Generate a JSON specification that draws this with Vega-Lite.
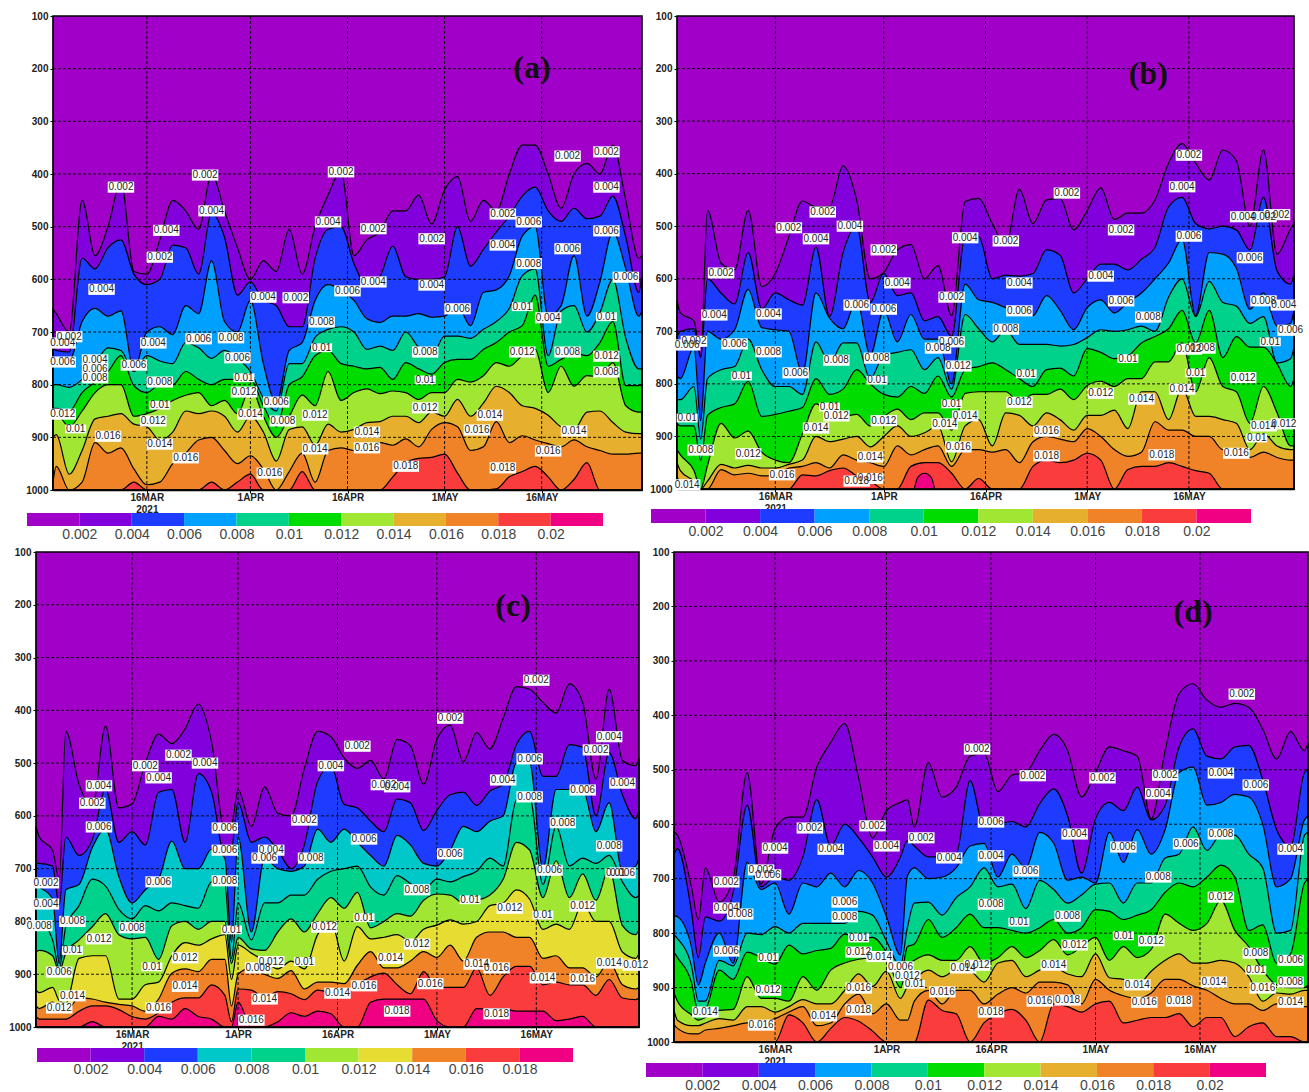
{"$schema":"https://vega.github.io/schema/vega-lite/v6.json","background":"#ffffff","padding":{"left":8,"top":11,"right":0,"bottom":0},"resolve":{"scale":{"color":"independent"}},"config":{"view":{"stroke":null},"axis":{"labelFont":"Liberation Sans","labelFontWeight":"bold","labelFontSize":10,"labelColor":"#222222","tickColor":"#000000","domainColor":"#000000","domainWidth":1.5,"grid":false,"labelOverlap":false,"labelBound":false,"labelFlush":false},"text":{"font":"Liberation Sans"}},
"datasets":{
"frame":[{"d":"2021/03/01 12:00","d2":"2021/05/31 12:00","p":100,"p2":1000}],
"gx":[{"d":"2021/03/16","p":100,"p2":1000},{"d":"2021/04/01","p":100,"p2":1000},{"d":"2021/04/16","p":100,"p2":1000},{"d":"2021/05/01","p":100,"p2":1000},{"d":"2021/05/16","p":100,"p2":1000}],
"gy":[{"d":"2021/03/01 12:00","d2":"2021/05/31 12:00","p":200},{"d":"2021/03/01 12:00","d2":"2021/05/31 12:00","p":300},{"d":"2021/03/01 12:00","d2":"2021/05/31 12:00","p":400},{"d":"2021/03/01 12:00","d2":"2021/05/31 12:00","p":500},{"d":"2021/03/01 12:00","d2":"2021/05/31 12:00","p":600},{"d":"2021/03/01 12:00","d2":"2021/05/31 12:00","p":700},{"d":"2021/03/01 12:00","d2":"2021/05/31 12:00","p":800},{"d":"2021/03/01 12:00","d2":"2021/05/31 12:00","p":900}],
"bar":[{"lo":0,"hi":0.002,"k":"c00"},{"lo":0.002,"hi":0.004,"k":"c02"},{"lo":0.004,"hi":0.006,"k":"c04"},{"lo":0.006,"hi":0.008,"k":"c06"},{"lo":0.008,"hi":0.01,"k":"c08"},{"lo":0.01,"hi":0.012,"k":"c10"},{"lo":0.012,"hi":0.014,"k":"c12"},{"lo":0.014,"hi":0.016,"k":"c14"},{"lo":0.016,"hi":0.018,"k":"c16"},{"lo":0.018,"hi":0.02,"k":"c18"},{"lo":0.02,"hi":0.022,"k":"c20"}],
"barc":[{"lo":0,"hi":0.002,"k":"c00"},{"lo":0.002,"hi":0.004,"k":"c02"},{"lo":0.004,"hi":0.006,"k":"c04"},{"lo":0.006,"hi":0.008,"k":"c06"},{"lo":0.008,"hi":0.01,"k":"c08"},{"lo":0.01,"hi":0.012,"k":"c10"},{"lo":0.012,"hi":0.014,"k":"c12"},{"lo":0.014,"hi":0.016,"k":"c14"},{"lo":0.016,"hi":0.018,"k":"c16"},{"lo":0.018,"hi":0.02,"k":"c18"}],
"a":[
{"d":"2021/03/01 12:00","c02":657,"c04":730,"c06":750,"c08":800,"c10":845,"c12":850,"c14":900,"c16":985,"c18":1000},
{"d":"2021/03/02","c02":665,"c04":735,"c06":752,"c08":800,"c10":845,"c12":852,"c14":895,"c16":955,"c18":1000},
{"d":"2021/03/04","c02":700,"c04":738,"c06":755,"c08":805,"c10":850,"c12":880,"c14":970,"c16":1000,"c18":1000},
{"d":"2021/03/06","c02":450,"c04":560,"c06":680,"c08":790,"c10":815,"c12":850,"c14":925,"c16":985,"c18":1000},
{"d":"2021/03/08","c02":555,"c04":580,"c06":655,"c08":760,"c10":795,"c12":815,"c14":865,"c16":910,"c18":1000},
{"d":"2021/03/10","c02":500,"c04":540,"c06":670,"c08":730,"c10":775,"c12":800,"c14":860,"c16":930,"c18":1000},
{"d":"2021/03/12","c02":415,"c04":525,"c06":660,"c08":735,"c10":745,"c12":800,"c14":855,"c16":920,"c18":1000},
{"d":"2021/03/14","c02":585,"c04":590,"c06":773,"c08":775,"c10":802,"c12":860,"c14":875,"c16":960,"c18":985},
{"d":"2021/03/16","c02":590,"c04":610,"c06":700,"c08":745,"c10":815,"c12":855,"c14":880,"c16":990,"c18":1000},
{"d":"2021/03/18","c02":525,"c04":600,"c06":690,"c08":755,"c10":800,"c12":845,"c14":905,"c16":985,"c18":1000},
{"d":"2021/03/20","c02":450,"c04":535,"c06":705,"c08":760,"c10":800,"c12":830,"c14":890,"c16":950,"c18":1000},
{"d":"2021/03/22","c02":470,"c04":540,"c06":650,"c08":720,"c10":775,"c12":820,"c14":850,"c16":930,"c18":1000},
{"d":"2021/03/24","c02":505,"c04":590,"c06":665,"c08":730,"c10":790,"c12":815,"c14":855,"c16":905,"c18":1000},
{"d":"2021/03/26","c02":400,"c04":475,"c06":565,"c08":750,"c10":800,"c12":840,"c14":850,"c16":900,"c18":985},
{"d":"2021/03/28","c02":470,"c04":520,"c06":680,"c08":735,"c10":790,"c12":830,"c14":860,"c16":925,"c18":1000},
{"d":"2021/03/30","c02":540,"c04":630,"c06":700,"c08":750,"c10":790,"c12":855,"c14":890,"c16":950,"c18":985},
{"d":"2021/04/01","c02":600,"c04":605,"c06":640,"c08":775,"c10":790,"c12":805,"c14":860,"c16":935,"c18":970},
{"d":"2021/04/03","c02":565,"c04":640,"c06":760,"c08":825,"c10":840,"c12":860,"c14":890,"c16":960,"c18":1000},
{"d":"2021/04/05","c02":585,"c04":650,"c06":835,"c08":850,"c10":880,"c12":900,"c14":945,"c16":1000,"c18":1000},
{"d":"2021/04/07","c02":505,"c04":690,"c06":735,"c08":760,"c10":800,"c12":860,"c14":885,"c16":965,"c18":1000},
{"d":"2021/04/09","c02":590,"c04":690,"c06":720,"c08":760,"c10":785,"c12":820,"c14":880,"c16":930,"c18":965},
{"d":"2021/04/11","c02":500,"c04":560,"c06":640,"c08":710,"c10":745,"c12":840,"c14":915,"c16":985,"c18":1000},
{"d":"2021/04/13","c02":440,"c04":505,"c06":610,"c08":695,"c10":735,"c12":775,"c14":875,"c16":925,"c18":1000},
{"d":"2021/04/15","c02":395,"c04":500,"c06":620,"c08":690,"c10":760,"c12":830,"c14":890,"c16":920,"c18":1000},
{"d":"2021/04/17","c02":555,"c04":570,"c06":640,"c08":700,"c10":765,"c12":815,"c14":885,"c16":925,"c18":1000},
{"d":"2021/04/19","c02":525,"c04":612,"c06":675,"c08":733,"c10":770,"c12":808,"c14":872,"c16":920,"c18":1000},
{"d":"2021/04/21","c02":510,"c04":595,"c06":682,"c08":727,"c10":767,"c12":817,"c14":870,"c16":910,"c18":1000},
{"d":"2021/04/23","c02":470,"c04":537,"c06":670,"c08":735,"c10":790,"c12":812,"c14":860,"c16":915,"c18":975},
{"d":"2021/04/25","c02":470,"c04":595,"c06":670,"c08":700,"c10":758,"c12":815,"c14":860,"c16":903,"c18":948},
{"d":"2021/04/27","c02":440,"c04":600,"c06":665,"c08":729,"c10":770,"c12":828,"c14":872,"c16":918,"c18":940},
{"d":"2021/04/29","c02":495,"c04":600,"c06":672,"c08":745,"c10":780,"c12":815,"c14":852,"c16":885,"c18":938},
{"d":"2021/05/01","c02":430,"c04":595,"c06":670,"c08":708,"c10":758,"c12":815,"c14":860,"c16":872,"c18":932},
{"d":"2021/05/03","c02":405,"c04":500,"c06":650,"c08":708,"c10":752,"c12":790,"c14":828,"c16":880,"c18":968},
{"d":"2021/05/05","c02":490,"c04":575,"c06":688,"c08":712,"c10":752,"c12":795,"c14":860,"c16":925,"c18":1000},
{"d":"2021/05/07","c02":450,"c04":543,"c06":625,"c08":695,"c10":733,"c12":783,"c14":835,"c16":918,"c18":1000},
{"d":"2021/05/09","c02":470,"c04":510,"c06":620,"c08":680,"c10":720,"c12":758,"c14":803,"c16":870,"c18":998},
{"d":"2021/05/11","c02":400,"c04":480,"c06":593,"c08":655,"c10":700,"c12":765,"c14":815,"c16":910,"c18":975},
{"d":"2021/05/13","c02":345,"c04":442,"c06":518,"c08":593,"c10":688,"c12":745,"c14":840,"c16":897,"c18":965},
{"d":"2021/05/15","c02":345,"c04":425,"c06":500,"c08":580,"c10":630,"c12":733,"c14":845,"c16":905,"c18":955},
{"d":"2021/05/17","c02":400,"c04":470,"c06":670,"c08":745,"c10":765,"c12":815,"c14":858,"c16":912,"c18":975},
{"d":"2021/05/19","c02":465,"c04":490,"c06":650,"c08":660,"c10":752,"c12":765,"c14":880,"c16":918,"c18":1000},
{"d":"2021/05/21","c02":400,"c04":465,"c06":555,"c08":650,"c10":740,"c12":803,"c14":885,"c16":905,"c18":980},
{"d":"2021/05/23","c02":380,"c04":485,"c06":670,"c08":700,"c10":745,"c12":783,"c14":852,"c16":918,"c18":948},
{"d":"2021/05/25","c02":400,"c04":480,"c06":605,"c08":663,"c10":720,"c12":785,"c14":850,"c16":925,"c18":1000},
{"d":"2021/05/27","c02":345,"c04":442,"c06":510,"c08":600,"c10":680,"c12":758,"c14":872,"c16":932,"c18":1000},
{"d":"2021/05/29","c02":450,"c04":520,"c06":580,"c08":712,"c10":802,"c12":840,"c14":890,"c16":932,"c18":1000},
{"d":"2021/05/31","c02":560,"c04":625,"c06":670,"c08":770,"c10":802,"c12":852,"c14":893,"c16":930,"c18":1000},
{"d":"2021/05/31 12:00","c02":555,"c04":590,"c06":660,"c08":770,"c10":800,"c12":852,"c14":893,"c16":930,"c18":1000}],
"b":[
{"d":"2021/03/01 12:00","c02":640,"c04":710,"c06":785,"c08":830,"c10":875,"c12":925,"c14":950,"c16":975,"c18":1000},
{"d":"2021/03/02","c02":665,"c04":700,"c06":790,"c08":830,"c10":880,"c12":935,"c14":965,"c16":990,"c18":1000},
{"d":"2021/03/04","c02":680,"c04":695,"c06":730,"c08":805,"c10":880,"c12":965,"c14":985,"c16":1000,"c18":1000},
{"d":"2021/03/05","c02":745,"c04":750,"c06":870,"c08":905,"c10":945,"c12":1000,"c14":1000,"c16":1000,"c18":1000},
{"d":"2021/03/06","c02":470,"c04":600,"c06":700,"c08":790,"c10":860,"c12":955,"c14":985,"c16":1000,"c18":1000},
{"d":"2021/03/08","c02":570,"c04":627,"c06":715,"c08":773,"c10":845,"c12":875,"c14":953,"c16":963,"c18":1000},
{"d":"2021/03/10","c02":583,"c04":648,"c06":697,"c08":767,"c10":838,"c12":903,"c14":960,"c16":973,"c18":1000},
{"d":"2021/03/12","c02":470,"c04":550,"c06":620,"c08":715,"c10":795,"c12":890,"c14":955,"c16":970,"c18":1000},
{"d":"2021/03/14","c02":615,"c04":657,"c06":693,"c08":773,"c10":862,"c12":930,"c14":960,"c16":975,"c18":1000},
{"d":"2021/03/16","c02":590,"c04":627,"c06":697,"c08":805,"c10":858,"c12":945,"c14":960,"c16":975,"c18":1000},
{"d":"2021/03/18","c02":520,"c04":640,"c06":700,"c08":805,"c10":852,"c12":950,"c14":953,"c16":960,"c18":1000},
{"d":"2021/03/20","c02":452,"c04":650,"c06":780,"c08":820,"c10":845,"c12":895,"c14":945,"c16":957,"c18":973},
{"d":"2021/03/22","c02":463,"c04":540,"c06":627,"c08":720,"c10":790,"c12":838,"c14":900,"c16":950,"c18":975},
{"d":"2021/03/24","c02":463,"c04":672,"c06":675,"c08":760,"c10":820,"c12":855,"c14":910,"c16":960,"c18":965},
{"d":"2021/03/26","c02":385,"c04":550,"c06":695,"c08":722,"c10":810,"c12":862,"c14":905,"c16":935,"c18":960},
{"d":"2021/03/28","c02":450,"c04":500,"c06":640,"c08":722,"c10":773,"c12":858,"c14":900,"c16":945,"c18":975},
{"d":"2021/03/30","c02":600,"c04":645,"c06":745,"c08":790,"c10":800,"c12":880,"c14":920,"c16":950,"c18":985},
{"d":"2021/04/01","c02":588,"c04":590,"c06":660,"c08":745,"c10":820,"c12":862,"c14":900,"c16":957,"c18":1000},
{"d":"2021/04/03","c02":545,"c04":632,"c06":720,"c08":740,"c10":825,"c12":848,"c14":880,"c16":918,"c18":1000},
{"d":"2021/04/05","c02":535,"c04":627,"c06":668,"c08":735,"c10":805,"c12":868,"c14":900,"c16":935,"c18":957},
{"d":"2021/04/07","c02":600,"c04":680,"c06":715,"c08":773,"c10":818,"c12":855,"c14":893,"c16":925,"c18":950},
{"d":"2021/04/09","c02":575,"c04":672,"c06":715,"c08":750,"c10":785,"c12":855,"c14":880,"c16":918,"c18":950},
{"d":"2021/04/11","c02":670,"c04":710,"c06":800,"c08":810,"c10":825,"c12":888,"c14":948,"c16":957,"c18":970},
{"d":"2021/04/13","c02":453,"c04":520,"c06":610,"c08":668,"c10":773,"c12":818,"c14":880,"c16":925,"c18":1000},
{"d":"2021/04/15","c02":447,"c04":520,"c06":640,"c08":695,"c10":767,"c12":815,"c14":868,"c16":925,"c18":980},
{"d":"2021/04/17","c02":495,"c04":600,"c06":645,"c08":720,"c10":760,"c12":815,"c14":918,"c16":930,"c18":1000},
{"d":"2021/04/19","c02":535,"c04":593,"c06":655,"c08":697,"c10":773,"c12":815,"c14":855,"c16":925,"c18":1000},
{"d":"2021/04/21","c02":430,"c04":595,"c06":665,"c08":725,"c10":790,"c12":835,"c14":860,"c16":950,"c18":1000},
{"d":"2021/04/23","c02":495,"c04":590,"c06":670,"c08":725,"c10":805,"c12":820,"c14":880,"c16":910,"c18":957},
{"d":"2021/04/25","c02":450,"c04":545,"c06":632,"c08":725,"c10":773,"c12":820,"c14":855,"c16":900,"c18":945},
{"d":"2021/04/27","c02":447,"c04":555,"c06":660,"c08":728,"c10":770,"c12":810,"c14":868,"c16":905,"c18":950},
{"d":"2021/04/29","c02":507,"c04":627,"c06":697,"c08":725,"c10":785,"c12":830,"c14":888,"c16":910,"c18":945},
{"d":"2021/05/01","c02":470,"c04":600,"c06":655,"c08":712,"c10":733,"c12":803,"c14":860,"c16":885,"c18":932},
{"d":"2021/05/03","c02":427,"c04":572,"c06":640,"c08":697,"c10":740,"c12":795,"c14":860,"c16":900,"c18":945},
{"d":"2021/05/05","c02":487,"c04":572,"c06":665,"c08":700,"c10":752,"c12":805,"c14":850,"c16":925,"c18":1000},
{"d":"2021/05/07","c02":475,"c04":583,"c06":645,"c08":697,"c10":747,"c12":790,"c14":885,"c16":938,"c18":963},
{"d":"2021/05/09","c02":475,"c04":563,"c06":627,"c08":690,"c10":722,"c12":790,"c14":815,"c16":930,"c18":957},
{"d":"2021/05/11","c02":450,"c04":540,"c06":600,"c08":700,"c10":710,"c12":758,"c14":815,"c16":872,"c18":957},
{"d":"2021/05/13","c02":380,"c04":463,"c06":570,"c08":635,"c10":695,"c12":758,"c14":868,"c16":888,"c18":950},
{"d":"2021/05/15","c02":343,"c04":445,"c06":525,"c08":600,"c10":660,"c12":722,"c14":808,"c16":888,"c18":957},
{"d":"2021/05/17","c02":380,"c04":495,"c06":670,"c08":672,"c10":722,"c12":815,"c14":862,"c16":900,"c18":965},
{"d":"2021/05/19","c02":412,"c04":505,"c06":550,"c08":605,"c10":660,"c12":750,"c14":862,"c16":900,"c18":970},
{"d":"2021/05/21","c02":355,"c04":500,"c06":553,"c08":645,"c10":750,"c12":805,"c14":868,"c16":925,"c18":1000},
{"d":"2021/05/23","c02":375,"c04":507,"c06":580,"c08":652,"c10":710,"c12":815,"c14":875,"c16":925,"c18":1000},
{"d":"2021/05/25","c02":500,"c04":545,"c06":658,"c08":685,"c10":730,"c12":875,"c14":925,"c16":940,"c18":1000},
{"d":"2021/05/27","c02":355,"c04":445,"c06":627,"c08":672,"c10":730,"c12":805,"c14":895,"c16":930,"c18":1000},
{"d":"2021/05/29","c02":553,"c04":585,"c06":690,"c08":760,"c10":762,"c12":855,"c14":918,"c16":940,"c18":1000},
{"d":"2021/05/31","c02":505,"c04":610,"c06":685,"c08":752,"c10":805,"c12":918,"c14":925,"c16":945,"c18":1000},
{"d":"2021/05/31 12:00","c02":495,"c04":590,"c06":660,"c08":730,"c10":790,"c12":918,"c14":925,"c16":945,"c18":1000}],
"b2":[{"d":"2021/04/05 12:00","c20":1000},{"d":"2021/04/06","c20":978},{"d":"2021/04/07","c20":970},{"d":"2021/04/08","c20":978},{"d":"2021/04/08 12:00","c20":1000}],
"c":[
{"d":"2021/03/01 12:00","c02":620,"c04":690,"c06":730,"c08":820,"c10":858,"c12":930,"c14":960,"c16":980,"c18":1000},
{"d":"2021/03/02","c02":640,"c04":690,"c06":735,"c08":800,"c10":855,"c12":935,"c14":965,"c16":985,"c18":1000},
{"d":"2021/03/04","c02":665,"c04":695,"c06":757,"c08":835,"c10":865,"c12":925,"c14":953,"c16":985,"c18":1000},
{"d":"2021/03/05","c02":720,"c04":770,"c06":880,"c08":890,"c10":895,"c12":950,"c14":965,"c16":985,"c18":1000},
{"d":"2021/03/06","c02":440,"c04":640,"c06":740,"c08":810,"c10":860,"c12":955,"c14":970,"c16":985,"c18":1000},
{"d":"2021/03/08","c02":540,"c04":675,"c06":730,"c08":770,"c10":835,"c12":870,"c14":945,"c16":970,"c18":1000},
{"d":"2021/03/10","c02":582,"c04":645,"c06":660,"c08":720,"c10":810,"c12":865,"c14":947,"c16":960,"c18":990},
{"d":"2021/03/12","c02":430,"c04":550,"c06":625,"c08":733,"c10":785,"c12":865,"c14":953,"c16":960,"c18":1000},
{"d":"2021/03/14","c02":585,"c04":650,"c06":715,"c08":777,"c10":825,"c12":947,"c14":957,"c16":967,"c18":1000},
{"d":"2021/03/16","c02":577,"c04":630,"c06":765,"c08":795,"c10":833,"c12":947,"c14":960,"c16":980,"c18":1000},
{"d":"2021/03/18","c02":500,"c04":655,"c06":740,"c08":770,"c10":830,"c12":920,"c14":970,"c16":985,"c18":1000},
{"d":"2021/03/20","c02":445,"c04":555,"c06":720,"c08":780,"c10":872,"c12":915,"c14":947,"c16":973,"c18":980},
{"d":"2021/03/22","c02":463,"c04":550,"c06":648,"c08":765,"c10":808,"c12":865,"c14":898,"c16":953,"c18":985},
{"d":"2021/03/24","c02":435,"c04":650,"c06":700,"c08":770,"c10":800,"c12":840,"c14":890,"c16":945,"c18":965},
{"d":"2021/03/26","c02":388,"c04":520,"c06":700,"c08":775,"c10":815,"c12":845,"c14":895,"c16":945,"c18":980},
{"d":"2021/03/28","c02":460,"c04":555,"c06":663,"c08":725,"c10":800,"c12":833,"c14":872,"c16":920,"c18":985},
{"d":"2021/03/30","c02":630,"c04":675,"c06":680,"c08":730,"c10":800,"c12":825,"c14":872,"c16":940,"c18":1000},
{"d":"2021/03/31","c02":620,"c04":665,"c06":840,"c08":870,"c10":880,"c12":910,"c14":960,"c16":990,"c18":1000},
{"d":"2021/04/01","c02":550,"c04":575,"c06":640,"c08":765,"c10":830,"c12":845,"c14":900,"c16":928,"c18":953},
{"d":"2021/04/03","c02":620,"c04":650,"c06":820,"c08":835,"c10":852,"c12":860,"c14":888,"c16":930,"c18":1000},
{"d":"2021/04/05","c02":545,"c04":640,"c06":680,"c08":765,"c10":855,"c12":875,"c14":900,"c16":945,"c18":1000},
{"d":"2021/04/07","c02":595,"c04":665,"c06":700,"c08":765,"c10":820,"c12":890,"c14":908,"c16":933,"c18":990},
{"d":"2021/04/09","c02":600,"c04":700,"c06":705,"c08":750,"c10":795,"c12":875,"c14":893,"c16":937,"c18":973},
{"d":"2021/04/11","c02":510,"c04":655,"c06":695,"c08":750,"c10":820,"c12":890,"c14":928,"c16":948,"c18":980},
{"d":"2021/04/13","c02":440,"c04":535,"c06":625,"c08":720,"c10":785,"c12":825,"c14":915,"c16":930,"c18":970},
{"d":"2021/04/15","c02":450,"c04":505,"c06":650,"c08":705,"c10":755,"c12":800,"c14":915,"c16":935,"c18":975},
{"d":"2021/04/17","c02":490,"c04":578,"c06":625,"c08":700,"c10":775,"c12":875,"c14":918,"c16":942,"c18":1000},
{"d":"2021/04/19","c02":510,"c04":585,"c06":650,"c08":695,"c10":745,"c12":810,"c14":883,"c16":920,"c18":1000},
{"d":"2021/04/21","c02":495,"c04":610,"c06":675,"c08":735,"c10":812,"c12":833,"c14":857,"c16":905,"c18":953},
{"d":"2021/04/23","c02":530,"c04":630,"c06":695,"c08":750,"c10":800,"c12":830,"c14":888,"c16":898,"c18":947},
{"d":"2021/04/25","c02":455,"c04":568,"c06":637,"c08":713,"c10":785,"c12":825,"c14":888,"c16":920,"c18":947},
{"d":"2021/04/27","c02":467,"c04":575,"c06":655,"c08":728,"c10":790,"c12":838,"c14":875,"c16":937,"c18":947},
{"d":"2021/04/29","c02":540,"c04":628,"c06":690,"c08":740,"c10":760,"c12":815,"c14":857,"c16":895,"c18":947},
{"d":"2021/05/01","c02":455,"c04":590,"c06":695,"c08":720,"c10":748,"c12":807,"c14":868,"c16":925,"c18":988},
{"d":"2021/05/03","c02":428,"c04":560,"c06":665,"c08":725,"c10":750,"c12":797,"c14":845,"c16":925,"c18":1000},
{"d":"2021/05/05","c02":497,"c04":555,"c06":620,"c08":715,"c10":765,"c12":805,"c14":875,"c16":925,"c18":1000},
{"d":"2021/05/07","c02":442,"c04":580,"c06":630,"c08":705,"c10":760,"c12":800,"c14":830,"c16":888,"c18":965},
{"d":"2021/05/09","c02":473,"c04":553,"c06":610,"c08":680,"c10":750,"c12":770,"c14":820,"c16":940,"c18":966},
{"d":"2021/05/11","c02":415,"c04":540,"c06":600,"c08":695,"c10":720,"c12":765,"c14":820,"c16":905,"c18":965},
{"d":"2021/05/13","c02":355,"c04":465,"c06":500,"c08":570,"c10":650,"c12":740,"c14":830,"c16":885,"c18":970},
{"d":"2021/05/15","c02":360,"c04":440,"c06":500,"c08":565,"c10":665,"c12":758,"c14":830,"c16":885,"c18":970},
{"d":"2021/05/17","c02":385,"c04":525,"c06":700,"c08":730,"c10":755,"c12":815,"c14":870,"c16":920,"c18":970},
{"d":"2021/05/19","c02":405,"c04":525,"c06":550,"c08":620,"c10":685,"c12":805,"c14":865,"c16":915,"c18":988},
{"d":"2021/05/21","c02":350,"c04":465,"c06":550,"c08":695,"c10":755,"c12":815,"c14":888,"c16":920,"c18":985},
{"d":"2021/05/23","c02":385,"c04":470,"c06":550,"c08":680,"c10":710,"c12":765,"c14":888,"c16":920,"c18":980},
{"d":"2021/05/25","c02":530,"c04":600,"c06":630,"c08":690,"c10":760,"c12":800,"c14":905,"c16":940,"c18":1000},
{"d":"2021/05/27","c02":360,"c04":480,"c06":575,"c08":675,"c10":700,"c12":800,"c14":875,"c16":910,"c18":1000},
{"d":"2021/05/29","c02":495,"c04":560,"c06":705,"c08":725,"c10":808,"c12":858,"c14":920,"c16":945,"c18":1000},
{"d":"2021/05/31","c02":505,"c04":605,"c06":695,"c08":755,"c10":825,"c12":870,"c14":928,"c16":948,"c18":1000},
{"d":"2021/05/31 12:00","c02":490,"c04":590,"c06":680,"c08":750,"c10":815,"c12":860,"c14":925,"c16":945,"c18":1000}],
"dd":[
{"d":"2021/03/01 12:00","c02":614,"c04":655,"c06":768,"c08":803,"c10":835,"c12":910,"c14":942,"c16":968,"c18":1000},
{"d":"2021/03/02","c02":620,"c04":645,"c06":770,"c08":810,"c10":845,"c12":925,"c14":960,"c16":975,"c18":1000},
{"d":"2021/03/04","c02":715,"c04":760,"c06":825,"c08":860,"c10":890,"c12":950,"c14":970,"c16":985,"c18":1000},
{"d":"2021/03/05","c02":775,"c04":845,"c06":895,"c08":925,"c10":945,"c12":960,"c14":970,"c16":985,"c18":1000},
{"d":"2021/03/06","c02":680,"c04":770,"c06":855,"c08":925,"c10":940,"c12":955,"c14":965,"c16":978,"c18":1000},
{"d":"2021/03/08","c02":743,"c04":778,"c06":800,"c08":850,"c10":868,"c12":942,"c14":957,"c16":975,"c18":1000},
{"d":"2021/03/10","c02":700,"c04":725,"c06":855,"c08":860,"c10":885,"c12":940,"c14":960,"c16":970,"c18":1000},
{"d":"2021/03/12","c02":505,"c04":565,"c06":670,"c08":800,"c10":835,"c12":880,"c14":935,"c16":965,"c18":1000},
{"d":"2021/03/14","c02":710,"c04":715,"c06":720,"c08":803,"c10":845,"c12":920,"c14":935,"c16":965,"c18":1000},
{"d":"2021/03/16","c02":608,"c04":697,"c06":708,"c08":788,"c10":857,"c12":920,"c14":945,"c16":957,"c18":1000},
{"d":"2021/03/18","c02":587,"c04":703,"c06":765,"c08":800,"c10":822,"c12":925,"c14":935,"c16":945,"c18":950},
{"d":"2021/03/20","c02":587,"c04":660,"c06":708,"c08":782,"c10":838,"c12":880,"c14":922,"c16":935,"c18":965},
{"d":"2021/03/22","c02":495,"c04":555,"c06":715,"c08":782,"c10":832,"c12":905,"c14":930,"c16":970,"c18":1000},
{"d":"2021/03/24","c02":450,"c04":640,"c06":690,"c08":782,"c10":828,"c12":868,"c14":930,"c16":965,"c18":975},
{"d":"2021/03/26","c02":415,"c04":600,"c06":715,"c08":782,"c10":802,"c12":855,"c14":905,"c16":930,"c18":955},
{"d":"2021/03/28","c02":515,"c04":625,"c06":685,"c08":760,"c10":810,"c12":848,"c14":875,"c16":912,"c18":962},
{"d":"2021/03/30","c02":625,"c04":660,"c06":708,"c08":767,"c10":808,"c12":845,"c14":898,"c16":948,"c18":980},
{"d":"2021/04/01","c02":575,"c04":697,"c06":770,"c08":815,"c10":835,"c12":850,"c14":870,"c16":930,"c18":1000},
{"d":"2021/04/03","c02":560,"c04":660,"c06":840,"c08":860,"c10":880,"c12":900,"c14":920,"c16":960,"c18":1000},
{"d":"2021/04/04","c02":555,"c04":630,"c06":695,"c08":790,"c10":825,"c12":860,"c14":898,"c16":960,"c18":1000},
{"d":"2021/04/05","c02":605,"c04":640,"c06":680,"c08":745,"c10":820,"c12":850,"c14":885,"c16":925,"c18":1000},
{"d":"2021/04/07","c02":487,"c04":660,"c06":700,"c08":743,"c10":775,"c12":840,"c14":868,"c16":905,"c18":923},
{"d":"2021/04/09","c02":550,"c04":660,"c06":697,"c08":767,"c10":808,"c12":850,"c14":880,"c16":930,"c18":942},
{"d":"2021/04/11","c02":532,"c04":655,"c06":680,"c08":735,"c10":790,"c12":850,"c14":868,"c16":905,"c18":948},
{"d":"2021/04/13","c02":475,"c04":520,"c06":640,"c08":715,"c10":765,"c12":825,"c14":870,"c16":905,"c18":1000},
{"d":"2021/04/15","c02":470,"c04":605,"c06":635,"c08":680,"c10":790,"c12":855,"c14":890,"c16":930,"c18":965},
{"d":"2021/04/17","c02":540,"c04":600,"c06":697,"c08":715,"c10":790,"c12":845,"c14":855,"c16":912,"c18":948},
{"d":"2021/04/19","c02":510,"c04":595,"c06":655,"c08":710,"c10":795,"c12":825,"c14":850,"c16":900,"c18":940},
{"d":"2021/04/21","c02":505,"c04":605,"c06":680,"c08":755,"c10":800,"c12":845,"c14":880,"c16":910,"c18":960},
{"d":"2021/04/23","c02":465,"c04":562,"c06":615,"c08":703,"c10":790,"c12":832,"c14":868,"c16":890,"c18":1000},
{"d":"2021/04/25","c02":435,"c04":535,"c06":635,"c08":720,"c10":775,"c12":812,"c14":862,"c16":890,"c18":930},
{"d":"2021/04/27","c02":465,"c04":585,"c06":703,"c08":745,"c10":800,"c12":840,"c14":875,"c16":895,"c18":935},
{"d":"2021/04/29","c02":550,"c04":690,"c06":697,"c08":730,"c10":790,"c12":825,"c14":880,"c16":930,"c18":945},
{"d":"2021/05/01","c02":505,"c04":590,"c06":708,"c08":710,"c10":757,"c12":808,"c14":838,"c16":885,"c18":930},
{"d":"2021/05/03","c02":458,"c04":560,"c06":615,"c08":708,"c10":760,"c12":850,"c14":882,"c16":905,"c18":925},
{"d":"2021/05/05","c02":465,"c04":575,"c06":670,"c08":745,"c10":775,"c12":825,"c14":885,"c16":915,"c18":965},
{"d":"2021/05/07","c02":475,"c04":532,"c06":610,"c08":708,"c10":767,"c12":845,"c14":895,"c16":920,"c18":960},
{"d":"2021/05/09","c02":590,"c04":592,"c06":655,"c08":708,"c10":757,"c12":830,"c14":870,"c16":910,"c18":955},
{"d":"2021/05/11","c02":465,"c04":565,"c06":610,"c08":662,"c10":725,"c12":765,"c14":850,"c16":885,"c18":955},
{"d":"2021/05/13","c02":360,"c04":458,"c06":505,"c08":655,"c10":708,"c12":782,"c14":838,"c16":885,"c18":948},
{"d":"2021/05/15","c02":342,"c04":425,"c06":495,"c08":605,"c10":715,"c12":795,"c14":855,"c16":897,"c18":972},
{"d":"2021/05/17","c02":372,"c04":475,"c06":565,"c08":648,"c10":697,"c12":782,"c14":855,"c16":905,"c18":955},
{"d":"2021/05/19","c02":385,"c04":480,"c06":560,"c08":620,"c10":675,"c12":740,"c14":850,"c16":920,"c18":955},
{"d":"2021/05/21","c02":378,"c04":458,"c06":545,"c08":620,"c10":697,"c12":795,"c14":855,"c16":930,"c18":990},
{"d":"2021/05/23","c02":385,"c04":455,"c06":550,"c08":655,"c10":795,"c12":825,"c14":880,"c16":930,"c18":972},
{"d":"2021/05/25","c02":425,"c04":518,"c06":600,"c08":680,"c10":785,"c12":868,"c14":925,"c16":942,"c18":965},
{"d":"2021/05/27","c02":480,"c04":610,"c06":715,"c08":800,"c10":855,"c12":895,"c14":910,"c16":930,"c18":990},
{"d":"2021/05/29","c02":430,"c04":640,"c06":700,"c08":795,"c10":838,"c12":900,"c14":912,"c16":935,"c18":990},
{"d":"2021/05/31","c02":465,"c04":505,"c06":592,"c08":620,"c10":708,"c12":900,"c14":905,"c16":935,"c18":1000},
{"d":"2021/05/31 12:00","c02":450,"c04":500,"c06":585,"c08":615,"c10":700,"c12":895,"c14":905,"c16":935,"c18":1000}],
"la":[{"d":"2021/03/12","p":425,"t":"0.002"},{"d":"2021/03/25","p":402,"t":"0.002"},{"d":"2021/04/15","p":396,"t":"0.002"},{"d":"2021/04/20","p":504,"t":"0.002"},{"d":"2021/04/29","p":523,"t":"0.002"},{"d":"2021/05/10","p":476,"t":"0.002"},{"d":"2021/05/20","p":366,"t":"0.002"},{"d":"2021/05/26","p":358,"t":"0.002"},{"d":"2021/03/18","p":558,"t":"0.002"},{"d":"2021/04/08","p":635,"t":"0.002"},{"d":"2021/03/04","p":709,"t":"0.002"},
{"d":"2021/03/19","p":507,"t":"0.004"},{"d":"2021/03/26","p":470,"t":"0.004"},{"d":"2021/04/13","p":491,"t":"0.004"},{"d":"2021/03/09","p":619,"t":"0.004"},{"d":"2021/04/20","p":605,"t":"0.004"},{"d":"2021/04/29","p":611,"t":"0.004"},{"d":"2021/05/10","p":535,"t":"0.004"},{"d":"2021/05/26","p":425,"t":"0.004"},{"d":"2021/03/17","p":721,"t":"0.004"},{"d":"2021/04/03","p":634,"t":"0.004"},{"d":"2021/05/17","p":673,"t":"0.004"},{"d":"2021/03/03","p":721,"t":"0.004"},{"d":"2021/03/08","p":753,"t":"0.004"},
{"d":"2021/03/03","p":757,"t":"0.006"},{"d":"2021/03/14","p":763,"t":"0.006"},{"d":"2021/03/24","p":713,"t":"0.006"},{"d":"2021/03/30","p":749,"t":"0.006"},{"d":"2021/04/05","p":833,"t":"0.006"},{"d":"2021/04/16","p":622,"t":"0.006"},{"d":"2021/05/03","p":656,"t":"0.006"},{"d":"2021/05/14","p":491,"t":"0.006"},{"d":"2021/05/20","p":542,"t":"0.006"},{"d":"2021/05/26","p":508,"t":"0.006"},{"d":"2021/05/29","p":596,"t":"0.006"},{"d":"2021/03/08","p":770,"t":"0.006"},
{"d":"2021/03/08","p":787,"t":"0.008"},{"d":"2021/03/18","p":795,"t":"0.008"},{"d":"2021/03/29","p":711,"t":"0.008"},{"d":"2021/04/06","p":869,"t":"0.008"},{"d":"2021/04/12","p":681,"t":"0.008"},{"d":"2021/04/28","p":738,"t":"0.008"},{"d":"2021/05/14","p":570,"t":"0.008"},{"d":"2021/05/20","p":738,"t":"0.008"},{"d":"2021/05/26","p":776,"t":"0.008"},
{"d":"2021/03/31","p":787,"t":"0.01"},{"d":"2021/03/05","p":884,"t":"0.01"},{"d":"2021/03/18","p":839,"t":"0.01"},{"d":"2021/04/12","p":730,"t":"0.01"},{"d":"2021/04/28","p":791,"t":"0.01"},{"d":"2021/05/13","p":652,"t":"0.01"},{"d":"2021/05/26","p":671,"t":"0.01"},
{"d":"2021/03/03","p":856,"t":"0.012"},{"d":"2021/03/17","p":869,"t":"0.012"},{"d":"2021/03/31","p":814,"t":"0.012"},{"d":"2021/04/11","p":858,"t":"0.012"},{"d":"2021/04/28","p":844,"t":"0.012"},{"d":"2021/05/13","p":738,"t":"0.012"},{"d":"2021/05/26","p":746,"t":"0.012"},
{"d":"2021/04/01","p":856,"t":"0.014"},{"d":"2021/03/18","p":913,"t":"0.014"},{"d":"2021/04/11","p":922,"t":"0.014"},{"d":"2021/04/19","p":890,"t":"0.014"},{"d":"2021/05/08","p":858,"t":"0.014"},{"d":"2021/05/21","p":888,"t":"0.014"},
{"d":"2021/03/10","p":898,"t":"0.016"},{"d":"2021/03/22","p":939,"t":"0.016"},{"d":"2021/04/04","p":968,"t":"0.016"},{"d":"2021/04/19","p":920,"t":"0.016"},{"d":"2021/05/06","p":886,"t":"0.016"},{"d":"2021/05/17","p":926,"t":"0.016"},{"d":"2021/04/25","p":955,"t":"0.018"},{"d":"2021/05/10","p":958,"t":"0.018"}],
"lb":[{"d":"2021/03/08","p":589,"t":"0.002"},{"d":"2021/03/23","p":473,"t":"0.002"},{"d":"2021/03/18","p":503,"t":"0.002"},{"d":"2021/04/01","p":545,"t":"0.002"},{"d":"2021/04/11","p":635,"t":"0.002"},{"d":"2021/04/19","p":528,"t":"0.002"},{"d":"2021/04/28","p":437,"t":"0.002"},{"d":"2021/05/06","p":507,"t":"0.002"},{"d":"2021/05/16","p":365,"t":"0.002"},{"d":"2021/05/29","p":478,"t":"0.002"},{"d":"2021/05/27","p":482,"t":"0.002"},{"d":"2021/03/04","p":719,"t":"0.002"},
{"d":"2021/03/07","p":669,"t":"0.004"},{"d":"2021/03/15","p":667,"t":"0.004"},{"d":"2021/03/22","p":524,"t":"0.004"},{"d":"2021/03/27","p":500,"t":"0.004"},{"d":"2021/04/03","p":608,"t":"0.004"},{"d":"2021/04/13","p":522,"t":"0.004"},{"d":"2021/04/21","p":608,"t":"0.004"},{"d":"2021/05/03","p":595,"t":"0.004"},{"d":"2021/05/15","p":425,"t":"0.004"},{"d":"2021/05/24","p":482,"t":"0.004"},{"d":"2021/05/30","p":650,"t":"0.004"},
{"d":"2021/03/03","p":726,"t":"0.006"},{"d":"2021/03/10","p":724,"t":"0.006"},{"d":"2021/03/28","p":650,"t":"0.006"},{"d":"2021/04/01","p":658,"t":"0.006"},{"d":"2021/03/19","p":779,"t":"0.006"},{"d":"2021/04/11","p":720,"t":"0.006"},{"d":"2021/04/21","p":661,"t":"0.006"},{"d":"2021/05/06","p":642,"t":"0.006"},{"d":"2021/05/16","p":519,"t":"0.006"},{"d":"2021/05/25","p":560,"t":"0.006"},{"d":"2021/05/31","p":698,"t":"0.006"},
{"d":"2021/03/15","p":739,"t":"0.008"},{"d":"2021/03/05","p":926,"t":"0.008"},{"d":"2021/03/25","p":755,"t":"0.008"},{"d":"2021/03/31","p":751,"t":"0.008"},{"d":"2021/04/09","p":732,"t":"0.008"},{"d":"2021/04/19","p":696,"t":"0.008"},{"d":"2021/05/10","p":673,"t":"0.008"},{"d":"2021/05/18","p":732,"t":"0.008"},{"d":"2021/05/27","p":642,"t":"0.008"},
{"d":"2021/03/11","p":785,"t":"0.01"},{"d":"2021/03/03","p":865,"t":"0.01"},{"d":"2021/03/24","p":844,"t":"0.01"},{"d":"2021/03/31","p":793,"t":"0.01"},{"d":"2021/04/11","p":838,"t":"0.01"},{"d":"2021/04/22","p":781,"t":"0.01"},{"d":"2021/05/07","p":752,"t":"0.01"},{"d":"2021/05/17","p":779,"t":"0.01"},{"d":"2021/05/26","p":903,"t":"0.01"},{"d":"2021/05/28","p":720,"t":"0.01"},
{"d":"2021/03/12","p":933,"t":"0.012"},{"d":"2021/03/25","p":861,"t":"0.012"},{"d":"2021/04/01","p":870,"t":"0.012"},{"d":"2021/04/12","p":766,"t":"0.012"},{"d":"2021/04/21","p":835,"t":"0.012"},{"d":"2021/05/03","p":818,"t":"0.012"},{"d":"2021/05/16","p":734,"t":"0.012"},{"d":"2021/05/24","p":788,"t":"0.012"},{"d":"2021/05/30","p":876,"t":"0.012"},
{"d":"2021/03/03","p":992,"t":"0.014"},{"d":"2021/03/22","p":884,"t":"0.014"},{"d":"2021/03/30","p":939,"t":"0.014"},{"d":"2021/04/10","p":876,"t":"0.014"},{"d":"2021/04/13","p":861,"t":"0.014"},{"d":"2021/05/09","p":829,"t":"0.014"},{"d":"2021/05/15","p":810,"t":"0.014"},{"d":"2021/05/27","p":880,"t":"0.014"},
{"d":"2021/03/17","p":973,"t":"0.016"},{"d":"2021/03/30","p":980,"t":"0.016"},{"d":"2021/04/12","p":920,"t":"0.016"},{"d":"2021/04/25","p":890,"t":"0.016"},{"d":"2021/05/23","p":932,"t":"0.016"},{"d":"2021/03/28","p":985,"t":"0.018"},{"d":"2021/05/12","p":935,"t":"0.018"},{"d":"2021/04/25","p":937,"t":"0.018"}],
"lc":[{"d":"2021/03/03","p":727,"t":"0.002"},{"d":"2021/03/10","p":576,"t":"0.002"},{"d":"2021/03/18","p":505,"t":"0.002"},{"d":"2021/03/23","p":485,"t":"0.002"},{"d":"2021/04/11","p":608,"t":"0.002"},{"d":"2021/04/19","p":468,"t":"0.002"},{"d":"2021/05/03","p":415,"t":"0.002"},{"d":"2021/05/16","p":343,"t":"0.002"},{"d":"2021/05/25","p":475,"t":"0.002"},{"d":"2021/04/23","p":541,"t":"0.002"},
{"d":"2021/03/11","p":543,"t":"0.004"},{"d":"2021/03/20","p":528,"t":"0.004"},{"d":"2021/03/27","p":500,"t":"0.004"},{"d":"2021/04/06","p":665,"t":"0.004"},{"d":"2021/04/15","p":505,"t":"0.004"},{"d":"2021/04/25","p":545,"t":"0.004"},{"d":"2021/03/03","p":767,"t":"0.004"},{"d":"2021/05/11","p":532,"t":"0.004"},{"d":"2021/05/27","p":450,"t":"0.004"},{"d":"2021/05/29","p":538,"t":"0.004"},
{"d":"2021/03/11","p":621,"t":"0.006"},{"d":"2021/03/30","p":623,"t":"0.006"},{"d":"2021/03/30","p":665,"t":"0.006"},{"d":"2021/04/05","p":680,"t":"0.006"},{"d":"2021/03/20","p":725,"t":"0.006"},{"d":"2021/04/20","p":644,"t":"0.006"},{"d":"2021/05/03","p":672,"t":"0.006"},{"d":"2021/05/15","p":492,"t":"0.006"},{"d":"2021/05/23","p":551,"t":"0.006"},{"d":"2021/03/05","p":896,"t":"0.006"},{"d":"2021/05/18","p":703,"t":"0.006"},{"d":"2021/05/29","p":708,"t":"0.006"},
{"d":"2021/03/02","p":808,"t":"0.008"},{"d":"2021/03/07","p":800,"t":"0.008"},{"d":"2021/03/16","p":812,"t":"0.008"},{"d":"2021/03/30","p":723,"t":"0.008"},{"d":"2021/04/12","p":680,"t":"0.008"},{"d":"2021/04/28","p":740,"t":"0.008"},{"d":"2021/05/15","p":564,"t":"0.008"},{"d":"2021/05/20","p":613,"t":"0.008"},{"d":"2021/05/27","p":657,"t":"0.008"},{"d":"2021/04/04","p":888,"t":"0.008"},
{"d":"2021/03/07","p":855,"t":"0.01"},{"d":"2021/03/19","p":886,"t":"0.01"},{"d":"2021/03/31","p":816,"t":"0.01"},{"d":"2021/04/11","p":876,"t":"0.01"},{"d":"2021/04/20","p":793,"t":"0.01"},{"d":"2021/05/06","p":759,"t":"0.01"},{"d":"2021/05/17","p":788,"t":"0.01"},{"d":"2021/05/28","p":708,"t":"0.01"},
{"d":"2021/03/11","p":833,"t":"0.012"},{"d":"2021/03/24","p":869,"t":"0.012"},{"d":"2021/04/06","p":876,"t":"0.012"},{"d":"2021/04/14","p":811,"t":"0.012"},{"d":"2021/04/28","p":843,"t":"0.012"},{"d":"2021/05/12","p":775,"t":"0.012"},{"d":"2021/05/23","p":771,"t":"0.012"},{"d":"2021/05/31","p":883,"t":"0.012"},{"d":"2021/03/05","p":964,"t":"0.012"},
{"d":"2021/03/07","p":941,"t":"0.014"},{"d":"2021/03/24","p":923,"t":"0.014"},{"d":"2021/04/05","p":947,"t":"0.014"},{"d":"2021/04/16","p":936,"t":"0.014"},{"d":"2021/04/24","p":870,"t":"0.014"},{"d":"2021/05/07","p":881,"t":"0.014"},{"d":"2021/05/17","p":907,"t":"0.014"},{"d":"2021/05/27","p":879,"t":"0.014"},
{"d":"2021/03/20","p":964,"t":"0.016"},{"d":"2021/04/03","p":987,"t":"0.016"},{"d":"2021/04/20","p":922,"t":"0.016"},{"d":"2021/04/30","p":918,"t":"0.016"},{"d":"2021/05/10","p":888,"t":"0.016"},{"d":"2021/05/23","p":909,"t":"0.016"},{"d":"2021/04/25","p":970,"t":"0.018"},{"d":"2021/05/10","p":975,"t":"0.018"}],
"ld":[{"d":"2021/03/09","p":706,"t":"0.002"},{"d":"2021/03/21","p":607,"t":"0.002"},{"d":"2021/03/30","p":603,"t":"0.002"},{"d":"2021/04/06","p":625,"t":"0.002"},{"d":"2021/04/14","p":462,"t":"0.002"},{"d":"2021/04/22","p":511,"t":"0.002"},{"d":"2021/05/02","p":515,"t":"0.002"},{"d":"2021/05/11","p":510,"t":"0.002"},{"d":"2021/05/22","p":361,"t":"0.002"},{"d":"2021/03/14","p":684,"t":"0.002"},
{"d":"2021/03/16","p":644,"t":"0.004"},{"d":"2021/03/24","p":646,"t":"0.004"},{"d":"2021/04/01","p":640,"t":"0.004"},{"d":"2021/04/10","p":662,"t":"0.004"},{"d":"2021/04/16","p":658,"t":"0.004"},{"d":"2021/04/28","p":618,"t":"0.004"},{"d":"2021/05/10","p":544,"t":"0.004"},{"d":"2021/05/19","p":506,"t":"0.004"},{"d":"2021/05/29","p":646,"t":"0.004"},{"d":"2021/03/09","p":754,"t":"0.004"},
{"d":"2021/03/15","p":693,"t":"0.006"},{"d":"2021/03/26","p":743,"t":"0.006"},{"d":"2021/03/09","p":833,"t":"0.006"},{"d":"2021/04/16","p":596,"t":"0.006"},{"d":"2021/04/21","p":686,"t":"0.006"},{"d":"2021/05/05","p":642,"t":"0.006"},{"d":"2021/05/14","p":636,"t":"0.006"},{"d":"2021/05/24","p":528,"t":"0.006"},{"d":"2021/05/29","p":850,"t":"0.006"},{"d":"2021/04/03","p":862,"t":"0.006"},
{"d":"2021/03/11","p":765,"t":"0.008"},{"d":"2021/03/26","p":770,"t":"0.008"},{"d":"2021/04/16","p":747,"t":"0.008"},{"d":"2021/04/27","p":769,"t":"0.008"},{"d":"2021/05/10","p":697,"t":"0.008"},{"d":"2021/05/19","p":618,"t":"0.008"},{"d":"2021/05/24","p":837,"t":"0.008"},{"d":"2021/05/29","p":890,"t":"0.008"},
{"d":"2021/03/15","p":845,"t":"0.01"},{"d":"2021/03/28","p":809,"t":"0.01"},{"d":"2021/04/05","p":894,"t":"0.01"},{"d":"2021/04/20","p":780,"t":"0.01"},{"d":"2021/05/05","p":805,"t":"0.01"},{"d":"2021/05/24","p":868,"t":"0.01"},
{"d":"2021/03/28","p":835,"t":"0.012"},{"d":"2021/03/15","p":905,"t":"0.012"},{"d":"2021/04/04","p":878,"t":"0.012"},{"d":"2021/04/14","p":859,"t":"0.012"},{"d":"2021/04/28","p":822,"t":"0.012"},{"d":"2021/05/09","p":814,"t":"0.012"},{"d":"2021/05/19","p":734,"t":"0.012"},
{"d":"2021/03/06","p":945,"t":"0.014"},{"d":"2021/03/23","p":952,"t":"0.014"},{"d":"2021/03/31","p":843,"t":"0.014"},{"d":"2021/04/12","p":864,"t":"0.014"},{"d":"2021/04/25","p":859,"t":"0.014"},{"d":"2021/05/07","p":895,"t":"0.014"},{"d":"2021/05/18","p":890,"t":"0.014"},{"d":"2021/05/29","p":927,"t":"0.014"},
{"d":"2021/03/14","p":969,"t":"0.016"},{"d":"2021/03/28","p":901,"t":"0.016"},{"d":"2021/04/09","p":908,"t":"0.016"},{"d":"2021/04/23","p":925,"t":"0.016"},{"d":"2021/05/08","p":927,"t":"0.016"},{"d":"2021/05/25","p":901,"t":"0.016"},
{"d":"2021/03/28","p":941,"t":"0.018"},{"d":"2021/04/16","p":945,"t":"0.018"},{"d":"2021/04/27","p":923,"t":"0.018"},{"d":"2021/05/13","p":925,"t":"0.018"}]
},
"concat":[
{"width":606,"height":474,"encoding":{"x":{"field":"d","type":"temporal","title":null,"scale":{"range":[17,606],"domain":[{"year":2021,"month":3,"date":1,"hours":12},{"year":2021,"month":5,"date":31,"hours":12}]},"axis":{"values":[{"year":2021,"month":3,"date":16},{"year":2021,"month":4,"date":1},{"year":2021,"month":4,"date":16},{"year":2021,"month":5,"date":1},{"year":2021,"month":5,"date":16}],"labelExpr":"month(datum.value)==2?[upper(timeFormat(datum.value,'%-d%b')),'2021']:upper(timeFormat(datum.value,'%-d%b'))","tickSize":3,"labelPadding":-1}},"y":{"field":"p","type":"quantitative","title":null,"scale":{"domain":[100,1000],"reverse":true,"nice":false,"zero":false},"axis":{"values":[100,200,300,400,500,600,700,800,900,1000],"format":"d","tickSize":3,"offset":-17}}},
"layer":[
{"data":{"name":"frame"},"mark":{"type":"rect","fill":"#a000c8"},"encoding":{"x2":{"field":"d2"},"y2":{"field":"p2"}}},
{"data":{"name":"a"},"transform":[{"fold":["c02","c04","c06","c08","c10","c12","c14","c16","c18"],"as":["k","p"]}],"mark":{"type":"area","interpolate":"monotone","stroke":"#000000","strokeWidth":1.2},"encoding":{"y2":{"datum":1000},"color":{"field":"k","type":"nominal","legend":null,"scale":{"domain":["c00","c02","c04","c06","c08","c10","c12","c14","c16","c18","c20"],"range":["#a000c8","#8200dc","#1e3cff","#00a0ff","#00d28c","#00dc00","#a0e632","#e6af2d","#f08228","#fa3c3c","#f00082"]}}}},
{"data":{"name":"gx"},"mark":{"type":"rule","color":"#000000","strokeDash":[3,2],"strokeWidth":0.9},"encoding":{"y2":{"field":"p2"}}},
{"data":{"name":"gy"},"mark":{"type":"rule","color":"#000000","strokeDash":[3,2],"strokeWidth":0.9},"encoding":{"x2":{"field":"d2"}}},
{"data":{"name":"frame"},"mark":{"type":"rect","fillOpacity":0,"stroke":"#000000","strokeWidth":1.6},"encoding":{"x2":{"field":"d2"},"y2":{"field":"p2"}}},
{"data":{"name":"la"},"mark":{"type":"point","filled":true,"opacity":1,"color":"#ffffff","shape":"M-1,-0.42H1V0.42H-1Z"},"encoding":{"size":{"condition":{"test":"length(datum.t)<5","value":440},"value":700}}},
{"data":{"name":"la"},"mark":{"type":"text","fontSize":10,"color":"#222222"},"encoding":{"text":{"field":"t","type":"nominal"}}},
{"data":{"values":[{"d":"2021/05/14 12:00","p":199,"t":"(a)"}]},"mark":{"type":"text","font":"Liberation Serif","fontWeight":"bold","fontSize":32,"color":"#111111"},"encoding":{"text":{"field":"t","type":"nominal"}}}
]},
{"width":620,"height":473,"encoding":{"x":{"field":"d","type":"temporal","title":null,"scale":{"range":[3,620],"domain":[{"year":2021,"month":3,"date":1,"hours":12},{"year":2021,"month":5,"date":31,"hours":12}]},"axis":{"values":[{"year":2021,"month":3,"date":16},{"year":2021,"month":4,"date":1},{"year":2021,"month":4,"date":16},{"year":2021,"month":5,"date":1},{"year":2021,"month":5,"date":16}],"labelExpr":"month(datum.value)==2?[upper(timeFormat(datum.value,'%-d%b')),'2021']:upper(timeFormat(datum.value,'%-d%b'))","tickSize":3,"labelPadding":-1}},"y":{"field":"p","type":"quantitative","title":null,"scale":{"domain":[100,1000],"reverse":true,"nice":false,"zero":false},"axis":{"values":[100,200,300,400,500,600,700,800,900,1000],"format":"d","tickSize":3,"offset":-3}}},
"layer":[
{"data":{"name":"frame"},"mark":{"type":"rect","fill":"#a000c8"},"encoding":{"x2":{"field":"d2"},"y2":{"field":"p2"}}},
{"data":{"name":"b"},"transform":[{"fold":["c02","c04","c06","c08","c10","c12","c14","c16","c18"],"as":["k","p"]}],"mark":{"type":"area","interpolate":"monotone","stroke":"#000000","strokeWidth":1.2},"encoding":{"y2":{"datum":1000},"color":{"field":"k","type":"nominal","legend":null,"scale":{"domain":["c00","c02","c04","c06","c08","c10","c12","c14","c16","c18","c20"],"range":["#a000c8","#8200dc","#1e3cff","#00a0ff","#00d28c","#00dc00","#a0e632","#e6af2d","#f08228","#fa3c3c","#f00082"]}}}},
{"data":{"name":"b2"},"transform":[{"fold":["c20"],"as":["k","p"]}],"mark":{"type":"area","interpolate":"monotone","stroke":"#000000","strokeWidth":1.2},"encoding":{"y2":{"datum":1000},"color":{"field":"k","type":"nominal","legend":null}}},
{"data":{"name":"gx"},"mark":{"type":"rule","color":"#000000","strokeDash":[3,2],"strokeWidth":0.9},"encoding":{"y2":{"field":"p2"}}},
{"data":{"name":"gy"},"mark":{"type":"rule","color":"#000000","strokeDash":[3,2],"strokeWidth":0.9},"encoding":{"x2":{"field":"d2"}}},
{"data":{"name":"frame"},"mark":{"type":"rect","fillOpacity":0,"stroke":"#000000","strokeWidth":1.6},"encoding":{"x2":{"field":"d2"},"y2":{"field":"p2"}}},
{"data":{"name":"lb"},"mark":{"type":"point","filled":true,"opacity":1,"color":"#ffffff","shape":"M-1,-0.42H1V0.42H-1Z"},"encoding":{"size":{"condition":{"test":"length(datum.t)<5","value":440},"value":700}}},
{"data":{"name":"lb"},"mark":{"type":"text","fontSize":10,"color":"#222222"},"encoding":{"text":{"field":"t","type":"nominal"}}},
{"data":{"values":[{"d":"2021/05/10","p":210,"t":"(b)"}]},"mark":{"type":"text","font":"Liberation Serif","fontWeight":"bold","fontSize":32,"color":"#111111"},"encoding":{"text":{"field":"t","type":"nominal"}}}
]},
{"width":606,"height":22,"data":{"name":"bar"},"mark":"rect","encoding":{"x":{"field":"lo","type":"quantitative","title":null,"scale":{"domain":[0,0.022],"range":[-9,567],"nice":false,"zero":false},"axis":{"values":[0.002,0.004,0.006,0.008,0.01,0.012,0.014,0.016,0.018,0.02],"format":".3~f","domain":false,"ticks":false,"labelFontWeight":"normal","labelFontSize":14,"labelColor":"#444444","labelPadding":-5}},"x2":{"field":"hi"},"y":{"datum":0,"type":"quantitative","scale":{"domain":[-3,19],"reverse":true,"nice":false,"zero":false},"axis":null},"y2":{"datum":13},"color":{"field":"k","type":"nominal","legend":null,"scale":{"domain":["c00","c02","c04","c06","c08","c10","c12","c14","c16","c18","c20"],"range":["#a000c8","#8200dc","#1e3cff","#00a0ff","#00d28c","#00dc00","#a0e632","#e6af2d","#f08228","#fa3c3c","#f00082"]}}}},
{"width":620,"height":22,"data":{"name":"bar"},"mark":"rect","encoding":{"x":{"field":"lo","type":"quantitative","title":null,"scale":{"domain":[0,0.022],"range":[-23,577],"nice":false,"zero":false},"axis":{"values":[0.002,0.004,0.006,0.008,0.01,0.012,0.014,0.016,0.018,0.02],"format":".3~f","domain":false,"ticks":false,"labelFontWeight":"normal","labelFontSize":14,"labelColor":"#444444","labelPadding":-8}},"x2":{"field":"hi"},"y":{"datum":0,"type":"quantitative","scale":{"domain":[1,23],"reverse":true,"nice":false,"zero":false},"axis":null},"y2":{"datum":14},"color":{"field":"k","type":"nominal","legend":null,"scale":{"domain":["c00","c02","c04","c06","c08","c10","c12","c14","c16","c18","c20"],"range":["#a000c8","#8200dc","#1e3cff","#00a0ff","#00d28c","#00dc00","#a0e632","#e6af2d","#f08228","#fa3c3c","#f00082"]}}}},
{"width":603,"height":475,"encoding":{"x":{"field":"d","type":"temporal","title":null,"scale":{"range":[0,603],"domain":[{"year":2021,"month":3,"date":1,"hours":12},{"year":2021,"month":5,"date":31,"hours":12}]},"axis":{"values":[{"year":2021,"month":3,"date":16},{"year":2021,"month":4,"date":1},{"year":2021,"month":4,"date":16},{"year":2021,"month":5,"date":1},{"year":2021,"month":5,"date":16}],"labelExpr":"month(datum.value)==2?[upper(timeFormat(datum.value,'%-d%b')),'2021']:upper(timeFormat(datum.value,'%-d%b'))","tickSize":3,"labelPadding":-1}},"y":{"field":"p","type":"quantitative","title":null,"scale":{"domain":[100,1000],"reverse":true,"nice":false,"zero":false},"axis":{"values":[100,200,300,400,500,600,700,800,900,1000],"format":"d","tickSize":3}}},
"layer":[
{"data":{"name":"frame"},"mark":{"type":"rect","fill":"#a000c8"},"encoding":{"x2":{"field":"d2"},"y2":{"field":"p2"}}},
{"data":{"name":"c"},"transform":[{"fold":["c02","c04","c06","c08","c10","c12","c14","c16","c18"],"as":["k","p"]}],"mark":{"type":"area","interpolate":"monotone","stroke":"#000000","strokeWidth":1.2},"encoding":{"y2":{"datum":1000},"color":{"field":"k","type":"nominal","legend":null,"scale":{"domain":["c00","c02","c04","c06","c08","c10","c12","c14","c16","c18"],"range":["#a000c8","#8200dc","#1e3cff","#00c8c8","#00d28c","#a0e632","#e6dc32","#f08228","#fa3c3c","#f00082"]}}}},
{"data":{"name":"gx"},"mark":{"type":"rule","color":"#000000","strokeDash":[3,2],"strokeWidth":0.9},"encoding":{"y2":{"field":"p2"}}},
{"data":{"name":"gy"},"mark":{"type":"rule","color":"#000000","strokeDash":[3,2],"strokeWidth":0.9},"encoding":{"x2":{"field":"d2"}}},
{"data":{"name":"frame"},"mark":{"type":"rect","fillOpacity":0,"stroke":"#000000","strokeWidth":1.6},"encoding":{"x2":{"field":"d2"},"y2":{"field":"p2"}}},
{"data":{"name":"lc"},"mark":{"type":"point","filled":true,"opacity":1,"color":"#ffffff","shape":"M-1,-0.42H1V0.42H-1Z"},"encoding":{"size":{"condition":{"test":"length(datum.t)<5","value":440},"value":700}}},
{"data":{"name":"lc"},"mark":{"type":"text","fontSize":10,"color":"#222222"},"encoding":{"text":{"field":"t","type":"nominal"}}},
{"data":{"values":[{"d":"2021/05/12 12:00","p":202,"t":"(c)"}]},"mark":{"type":"text","font":"Liberation Serif","fontWeight":"bold","fontSize":32,"color":"#111111"},"encoding":{"text":{"field":"t","type":"nominal"}}}
]},
{"width":634,"height":490,"encoding":{"x":{"field":"d","type":"temporal","title":null,"scale":{"range":[0,634],"domain":[{"year":2021,"month":3,"date":1,"hours":12},{"year":2021,"month":5,"date":31,"hours":12}]},"axis":{"values":[{"year":2021,"month":3,"date":16},{"year":2021,"month":4,"date":1},{"year":2021,"month":4,"date":16},{"year":2021,"month":5,"date":1},{"year":2021,"month":5,"date":16}],"labelExpr":"month(datum.value)==2?[upper(timeFormat(datum.value,'%-d%b')),'2021']:upper(timeFormat(datum.value,'%-d%b'))","tickSize":3,"labelPadding":-1}},"y":{"field":"p","type":"quantitative","title":null,"scale":{"domain":[100,1000],"reverse":true,"nice":false,"zero":false},"axis":{"values":[100,200,300,400,500,600,700,800,900,1000],"format":"d","tickSize":3}}},
"layer":[
{"data":{"name":"frame"},"mark":{"type":"rect","fill":"#a000c8"},"encoding":{"x2":{"field":"d2"},"y2":{"field":"p2"}}},
{"data":{"name":"dd"},"transform":[{"fold":["c02","c04","c06","c08","c10","c12","c14","c16","c18"],"as":["k","p"]}],"mark":{"type":"area","interpolate":"monotone","stroke":"#000000","strokeWidth":1.2},"encoding":{"y2":{"datum":1000},"color":{"field":"k","type":"nominal","legend":null,"scale":{"domain":["c00","c02","c04","c06","c08","c10","c12","c14","c16","c18","c20"],"range":["#a000c8","#8200dc","#1e3cff","#00a0ff","#00d28c","#00dc00","#a0e632","#e6af2d","#f08228","#fa3c3c","#f00082"]}}}},
{"data":{"name":"gx"},"mark":{"type":"rule","color":"#000000","strokeDash":[3,2],"strokeWidth":0.9},"encoding":{"y2":{"field":"p2"}}},
{"data":{"name":"gy"},"mark":{"type":"rule","color":"#000000","strokeDash":[3,2],"strokeWidth":0.9},"encoding":{"x2":{"field":"d2"}}},
{"data":{"name":"frame"},"mark":{"type":"rect","fillOpacity":0,"stroke":"#000000","strokeWidth":1.6},"encoding":{"x2":{"field":"d2"},"y2":{"field":"p2"}}},
{"data":{"name":"ld"},"mark":{"type":"point","filled":true,"opacity":1,"color":"#ffffff","shape":"M-1,-0.42H1V0.42H-1Z"},"encoding":{"size":{"condition":{"test":"length(datum.t)<5","value":440},"value":700}}},
{"data":{"name":"ld"},"mark":{"type":"text","fontSize":10,"color":"#222222"},"encoding":{"text":{"field":"t","type":"nominal"}}},
{"data":{"values":[{"d":"2021/05/15","p":210,"t":"(d)"}]},"mark":{"type":"text","font":"Liberation Serif","fontWeight":"bold","fontSize":32,"color":"#111111"},"encoding":{"text":{"field":"t","type":"nominal"}}}
]},
{"width":603,"height":16,"data":{"name":"barc"},"mark":"rect","encoding":{"x":{"field":"lo","type":"quantitative","title":null,"scale":{"domain":[0,0.02],"range":[1,537],"nice":false,"zero":false},"axis":{"values":[0.002,0.004,0.006,0.008,0.01,0.012,0.014,0.016,0.018],"format":".3~f","domain":false,"ticks":false,"labelFontWeight":"normal","labelFontSize":14,"labelColor":"#444444","labelPadding":-16}},"x2":{"field":"hi"},"y":{"datum":0,"type":"quantitative","scale":{"domain":[14,30],"reverse":true,"nice":false,"zero":false},"axis":null},"y2":{"datum":14},"color":{"field":"k","type":"nominal","legend":null,"scale":{"domain":["c00","c02","c04","c06","c08","c10","c12","c14","c16","c18"],"range":["#a000c8","#8200dc","#1e3cff","#00c8c8","#00d28c","#a0e632","#e6dc32","#f08228","#fa3c3c","#f00082"]}}}},
{"width":634,"height":16,"data":{"name":"bar"},"mark":"rect","encoding":{"x":{"field":"lo","type":"quantitative","title":null,"scale":{"domain":[0,0.022],"range":[-28,592],"nice":false,"zero":false},"axis":{"values":[0.002,0.004,0.006,0.008,0.01,0.012,0.014,0.016,0.018,0.02],"format":".3~f","domain":false,"ticks":false,"labelFontWeight":"normal","labelFontSize":14,"labelColor":"#444444","labelPadding":0}},"x2":{"field":"hi"},"y":{"datum":0,"type":"quantitative","scale":{"domain":[-1,15],"reverse":true,"nice":false,"zero":false},"axis":null},"y2":{"datum":14},"color":{"field":"k","type":"nominal","legend":null,"scale":{"domain":["c00","c02","c04","c06","c08","c10","c12","c14","c16","c18","c20"],"range":["#a000c8","#8200dc","#1e3cff","#00a0ff","#00d28c","#00dc00","#a0e632","#e6af2d","#f08228","#fa3c3c","#f00082"]}}}}
],"columns":2,"bounds":"flush","spacing":{"row":20,"column":32}}
